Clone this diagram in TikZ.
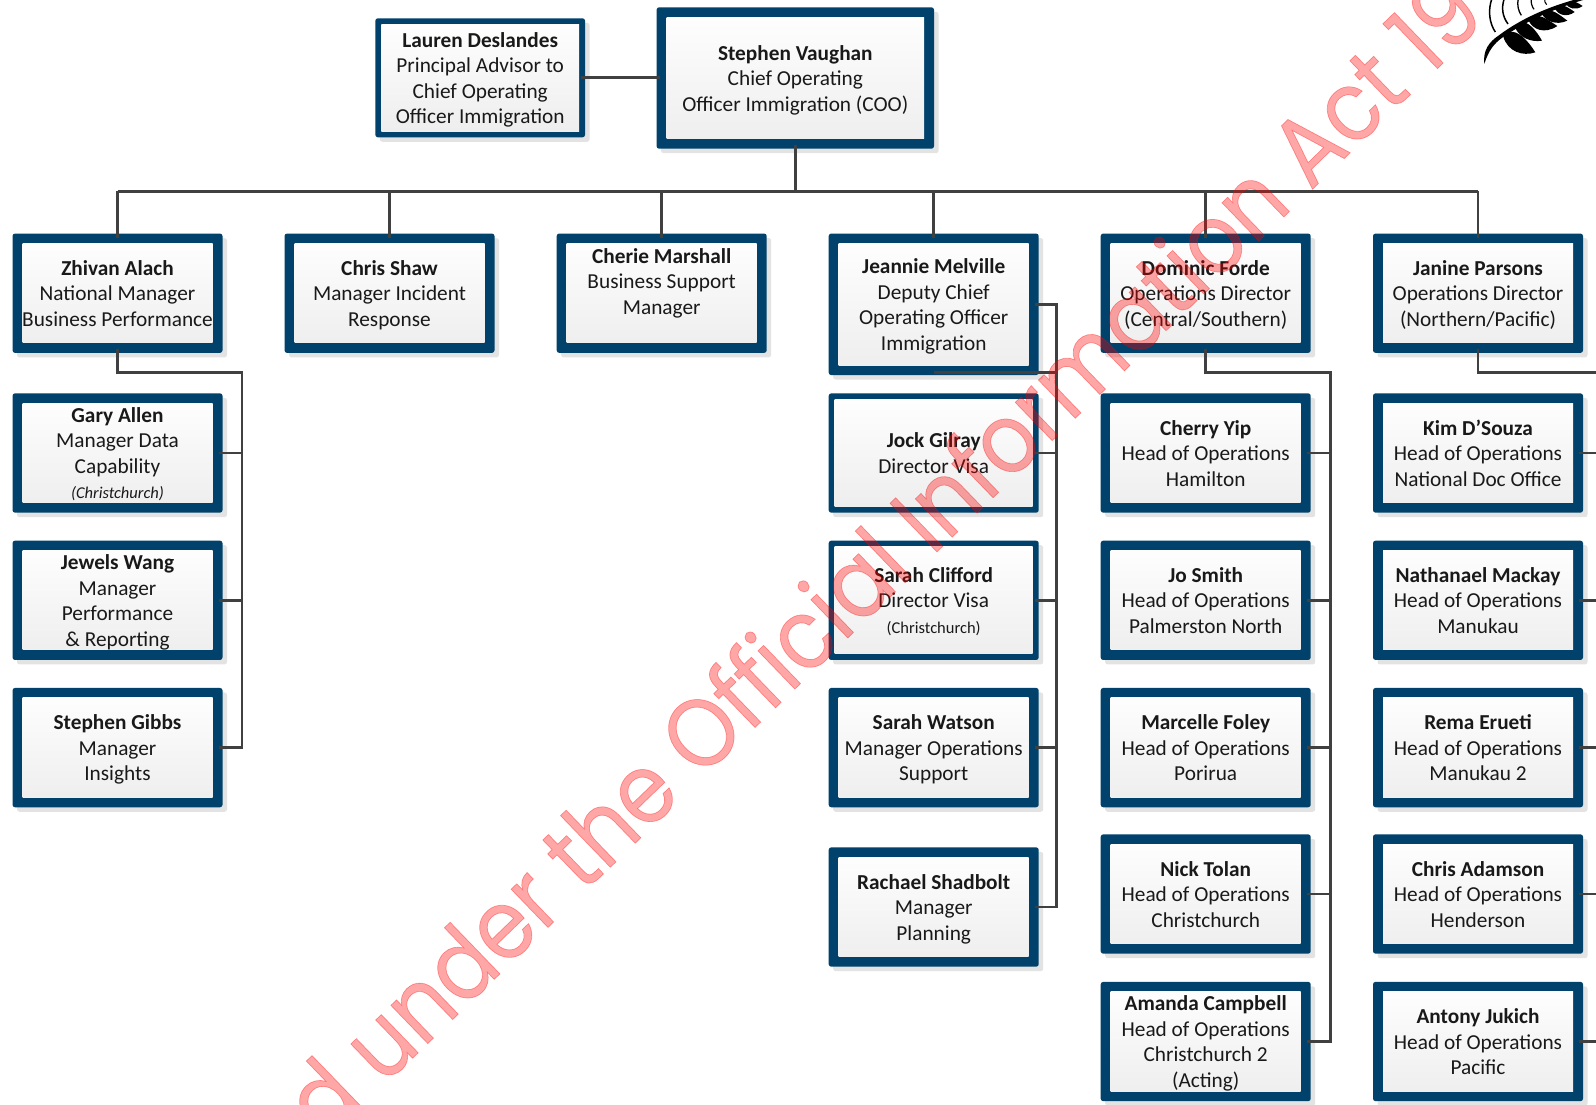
\documentclass[tikz,border=0pt]{standalone}
\usepackage{fontspec}
\setmainfont{Carlito}
\newfontfamily\wmfont{Poppins}[FakeBold=0.7,FakeStretch=0.89]
\definecolor{navybox}{HTML}{00426B}
\definecolor{boxbot}{HTML}{EDEDED}
\definecolor{shadowgrey}{HTML}{E3E3E3}
\definecolor{connline}{HTML}{404040}
\newcommand{\smline}[1]{{\fontsize{16.5}{25.5}\selectfont #1}}
\newcommand{\orgt}[1]{\rule{0pt}{22.9pt}#1\rule[-7.65pt]{0pt}{1pt}}
\tikzset{
  orgbox/.style={rectangle,rounded corners=2.5pt,fill=navybox,draw=none,inner sep=0pt,outer sep=0pt,
    minimum width=210pt,minimum height=119.3pt,align=center,text=black!90,
    font=\fontsize{21.3}{25.5}\selectfont,
    preaction={fill=shadowgrey,transform canvas={shift={(4.5pt,-4.5pt)}}},
    path picture={\shade[top color=white,bottom color=boxbot,sharp corners]
      ([xshift=#1,yshift=-#1]path picture bounding box.north west) rectangle
      ([xshift=-#1,yshift=#1]path picture bounding box.south east);}},
  orgbox/.default=10pt,
  conn/.style={draw=connline,line width=2.7pt,line join=miter},
  watermark/.style={rotate=44,text=red,text opacity=.35,inner sep=0pt,font=\wmfont\fontsize{97}{97}\selectfont}
}
\begin{document}
\begin{tikzpicture}[x=1pt,y=-1pt]
\useasboundingbox (0,0) rectangle (1596,1104);
\fill[white] (0,0) rectangle (1596,1104);
% fern
\begin{scope}[xshift=1456pt,x=.3333pt,y=-.3333pt,black]
\clip (-10,0) rectangle (420,210);
\fill (85,192) .. controls (80,150) and (100,125) .. (130,105) .. controls (190,60) and (280,15) .. (400,-12) -- (402,-6)
  .. controls (290,25) and (200,70) .. (140,112) .. controls (115,130) and (98,150) .. (85,192) -- cycle;
\fill (142,110) .. controls (155,155) and (200,170) .. (238,157) .. controls (215,120) and (185,90) .. (160,96) -- cycle;
\fill (178,84) .. controls (190,112) and (225,128) .. (258,122) .. controls (240,90) and (215,62) .. (196,68) -- cycle;
\fill (218,62) .. controls (230,88) and (265,104) .. (304,78) .. controls (285,66) and (255,42) .. (234,48) -- cycle;
\fill (258,42) .. controls (268,62) and (300,78) .. (334,62) .. controls (315,48) and (292,28) .. (274,32) -- cycle;
\fill (296,26) .. controls (306,44) and (332,54) .. (356,36) .. controls (342,26) and (322,12) .. (310,16) -- cycle;
\fill (330,12) .. controls (338,26) and (360,32) .. (380,18) .. controls (368,10) and (352,0) .. (342,4) -- cycle;
\draw[line width=1.5pt] (108,-5) .. controls (95,30) and (100,70) .. (118,96);
\draw[line width=1.5pt] (145,-5) .. controls (135,25) and (140,50) .. (156,72);
\draw[line width=1.3pt] (187,-5) .. controls (182,15) and (188,35) .. (196,46);
\draw[line width=1.2pt] (226,-5) .. controls (224,8) and (228,20) .. (234,28);
\draw[line width=1.1pt] (266,-5) .. controls (264,2) and (268,10) .. (272,14);
\end{scope}
% top
\node[orgbox=6pt,minimum width=209.7pt,minimum height=119pt] (lauren) at (480.2,77.8) {\orgt{\textbf{Lauren Deslandes}\\Principal Advisor to\\Chief Operating\\Officer Immigration}};
\node[orgbox,minimum width=277.4pt,minimum height=141.4pt] (coo) at (795.3,78) {\orgt{\textbf{Stephen Vaughan}\\Chief Operating\\Officer Immigration (COO)}};
% row 1
\node[orgbox] (zhivan) at (117.5,293.2) {\orgt{\textbf{Zhivan Alach}\\National Manager\\Business Performance}};
\node[orgbox] (chris) at (389.5,293.2) {\orgt{\textbf{Chris Shaw}\\Manager Incident\\Response}};
\node[orgbox] (cherie) at (661.7,293.2) {\orgt{\textbf{Cherie Marshall}\\Business Support\\Manager\\[-1.5pt]\mbox{}}};
\node[orgbox,minimum height=141.5pt] (jeannie) at (933.7,304.3) {\orgt{\textbf{Jeannie Melville}\\Deputy Chief\\Operating Officer\\Immigration}};
\node[orgbox] (dominic) at (1205.7,293.2) {\orgt{\textbf{Dominic Forde}\\Operations Director\\(Central/Southern)}};
\node[orgbox] (janine) at (1478,293.2) {\orgt{\textbf{Janine Parsons}\\Operations Director\\(Northern/Pacific)}};
% col 1
\node[orgbox] (gary) at (117.5,453) {\orgt{\textbf{Gary Allen}\\Manager Data\\Capability\\\smline{\textit{(Christchurch)}}}};
\node[orgbox] (jewels) at (117.5,600.3) {\orgt{\textbf{Jewels Wang}\\Manager\\Performance\\\&\ Reporting}};
\node[orgbox] (gibbs) at (117.5,747.6) {\orgt{\textbf{Stephen Gibbs}\\Manager\\Insights}};
% col 4
\node[orgbox=6pt] (jock) at (933.7,453) {\orgt{\textbf{Jock Gilray}\\Director Visa}};
\node[orgbox=6pt] (clifford) at (933.7,600.3) {\orgt{\textbf{Sarah Clifford}\\Director Visa\\\smline{(Christchurch)}}};
\node[orgbox] (watson) at (933.7,747.6) {\orgt{\textbf{Sarah Watson}\\Manager Operations\\Support}};
\node[orgbox] (shadbolt) at (933.7,907) {\orgt{\textbf{Rachael Shadbolt}\\Manager\\Planning}};
% col 5
\node[orgbox] (cherry) at (1205.7,453) {\orgt{\textbf{Cherry Yip}\\Head of Operations\\Hamilton}};
\node[orgbox] (jo) at (1205.7,600.3) {\orgt{\textbf{Jo Smith}\\Head of Operations\\Palmerston North}};
\node[orgbox] (marcelle) at (1205.7,747.6) {\orgt{\textbf{Marcelle Foley}\\Head of Operations\\Porirua}};
\node[orgbox] (nick) at (1205.7,894) {\orgt{\textbf{Nick Tolan}\\Head of Operations\\Christchurch}};
\node[orgbox] (amanda) at (1205.7,1041.5) {\orgt{\textbf{Amanda Campbell}\\Head of Operations\\Christchurch 2\\(Acting)}};
% col 6
\node[orgbox] (kim) at (1478,453) {\orgt{\textbf{Kim D’Souza}\\Head of Operations\\National Doc Office}};
\node[orgbox] (nathanael) at (1478,600.3) {\orgt{\textbf{Nathanael Mackay}\\Head of Operations\\Manukau}};
\node[orgbox] (rema) at (1478,747.6) {\orgt{\textbf{Rema Erueti}\\Head of Operations\\Manukau 2}};
\node[orgbox] (adamson) at (1478,894) {\orgt{\textbf{Chris Adamson}\\Head of Operations\\Henderson}};
\node[orgbox] (antony) at (1478,1041.5) {\orgt{\textbf{Antony Jukich}\\Head of Operations\\Pacific}};
% routing coordinates
\coordinate (bus) at (795.3,191.3);
\coordinate (tr1) at (242,372.7);
\coordinate (tr4) at (1056.7,372.7);
\coordinate (tr5) at (1330.3,372.7);
\coordinate (exitR) at (1596,372.7);
% connectors
\draw[conn] ([xshift=-4pt]lauren.east) -- ([xshift=3pt]lauren.east -| coo.west);
\draw[conn] ([yshift=4pt]coo.south) -- (coo.south |- bus);
\draw[conn] (zhivan.north |- bus) -- (janine.north |- bus);
\foreach \n in {zhivan,chris,cherie,jeannie,dominic,janine}
  \draw[conn] (\n.north |- bus) -- ([yshift=-4pt]\n.north);
\draw[conn] ([yshift=4pt]zhivan.south) -- (zhivan.south |- tr1) -- (tr1) -- (gibbs.east -| tr1) -- ([xshift=-4pt]gibbs.east);
\draw[conn] ([xshift=-4pt]gary.east) -- (gary.east -| tr1);
\draw[conn] ([xshift=-4pt]jewels.east) -- (jewels.east -| tr1);
\draw[conn] ([xshift=-4pt]jeannie.east) -- (jeannie.east -| tr4) -- (shadbolt.east -| tr4) -- ([xshift=-4pt]shadbolt.east);
\draw[conn] (jeannie.center |- tr4) -- (tr4);
\foreach \n in {jock,clifford,watson}
  \draw[conn] ([xshift=-4pt]\n.east) -- (\n.east -| tr4);
\draw[conn] ([yshift=4pt]dominic.south) -- (dominic.south |- tr5) -- (tr5) -- (amanda.east -| tr5) -- ([xshift=-4pt]amanda.east);
\foreach \n in {cherry,jo,marcelle,nick}
  \draw[conn] ([xshift=-4pt]\n.east) -- (\n.east -| tr5);
\draw[conn] ([yshift=4pt]janine.south) -- (janine.south |- exitR) -- (exitR);
\foreach \n in {kim,nathanael,rema,adamson,antony}
  \draw[conn] ([xshift=-4pt]\n.east) -- (\n.east -| exitR);
% watermark
\node[watermark] (wm) at (881,555) {d under the Official Information Act 19};
\end{tikzpicture}
\end{document}
